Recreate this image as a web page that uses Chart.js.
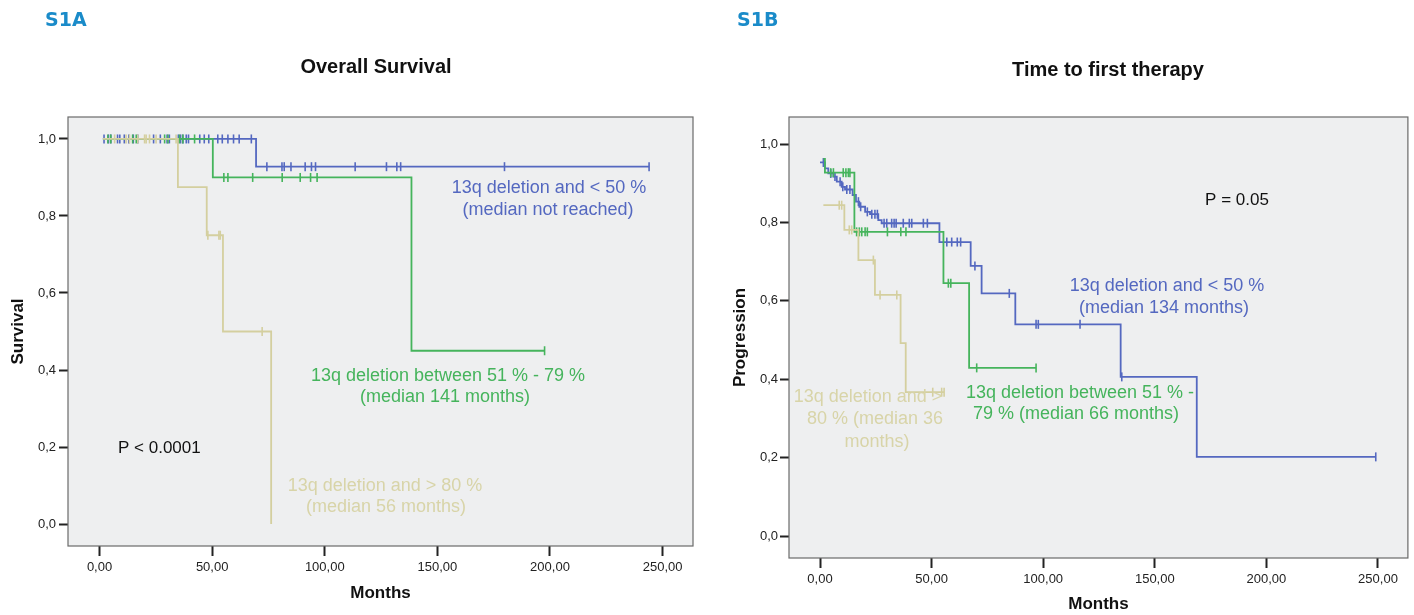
<!DOCTYPE html>
<html lang="en">
<head>
<meta charset="UTF-8">
<title>S1 Kaplan-Meier</title>
<script src="https://cdn.jsdelivr.net/npm/chart.js"></script>
<style>
    body { margin: 0; background: #fff; font-family: "Liberation Sans", Arial, sans-serif; }
    .panel { position: absolute; top: 0; }
    #panelA { left: 0; }
    #panelB { left: 700px; }
</style>
</head>
<body>
<div class="panel" id="panelA"><canvas id="chartA" width="700" height="615"></canvas></div>
<div class="panel" id="panelB"><canvas id="chartB" width="714" height="615"></canvas></div>

<script>
// shared axes
const monthTicks = [0, 50, 100, 150, 200, 250];
const monthTickLabels = ['0,00', '50,00', '100,00', '150,00', '200,00', '250,00'];
const probTicks = [0, 0.2, 0.4, 0.6, 0.8, 1.0];
const probTickLabels = ['0,0', '0,2', '0,4', '0,6', '0,8', '1,0'];

// S1A - overall survival: step times, value after each step, censored times
const osLowTimes = [1.5, 69.5];
const osLowSurv = [1.0, 0.928];
const osLowCensor = [2, 4, 5, 8, 9, 11, 13, 15, 17, 24, 27, 30, 31, 35, 36, 37, 38.5, 39.5,
    44.5, 46.5, 48.5, 52.5, 54.5, 57, 59.5, 62, 67.4, 74.3, 81, 82, 85, 91.3, 94.1, 95.9,
    113.5, 127.4, 132, 133.7, 179.8, 244];

const osMidTimes = [1.5, 50.3, 138.5];
const osMidSurv = [1.0, 0.90, 0.45];
const osMidCensor = [3.7, 5, 14.7, 16.3, 28.9, 30.4, 35.5, 37, 42.2, 55.2, 57, 68, 81.1,
    89.1, 93.7, 96.6, 197.6];

const osHighTimes = [1.5, 34.8, 47.6, 54.8, 76.2];
const osHighSurv = [1.0, 0.875, 0.75, 0.50, 0.0];
const osHighCensor = [6.7, 11.8, 13.3, 17, 20, 20.7, 22.2, 25.1, 34, 48.1, 53, 53.6, 72.2];

// S1B - time to first therapy
const ttLowTimes = [0, 2.2, 3.7, 6, 7.5, 9.7, 11.2, 14.6, 16.1, 17.6, 20.2, 22.4, 26.1, 27.6,
    53.5, 67.5, 72.4, 87.5, 134.7, 168.8];
const ttLowProg = [0.953, 0.938, 0.925, 0.917, 0.904, 0.891, 0.884, 0.870, 0.853, 0.840,
    0.827, 0.821, 0.806, 0.798, 0.75, 0.689, 0.619, 0.540, 0.406, 0.202];
const ttLowCensor = [1.5, 4.8, 6.7, 9, 10.2, 12, 13.4, 17.2, 18.2, 21.2, 23.2, 24.6, 25.7,
    28.7, 29.9, 32.1, 33.2, 34.1, 37.3, 40, 41.1, 46.3, 48.1, 56.8, 59, 61.5, 63, 69.4,
    84.8, 96.8, 97.8, 116.5, 135.2, 249];

const ttMidTimes = [1.5, 2.2, 15.4, 55.3, 66.8];
const ttMidProg = [0.962, 0.927, 0.776, 0.645, 0.429];
const ttMidCensor = [4.8, 6, 10.4, 11.6, 12.7, 13.4, 16.4, 17.6, 18.7, 20.2, 21.2, 30.2,
    36.2, 38.5, 57.5, 58.6, 70.2, 96.8];

const ttHighTimes = [1.5, 10.9, 17.2, 24.6, 36.1, 38.4];
const ttHighProg = [0.844, 0.781, 0.704, 0.615, 0.492, 0.367];
const ttHighCensor = [8.6, 9.7, 13.1, 14.2, 23.9, 26.9, 34.4, 50.5, 54.5, 55.6];

const BLUE = '#5468c0';
const GREEN = '#45b45c';
const TAN = '#d4cf9f';
const TAN_TEXT = '#d8d4a8';
const TAG = '#1a8bc9';

Chart.defaults.font.family = '"Liberation Sans", Arial, sans-serif';

// step curve: flat at previous value until next time, then drop
function curvePoints(times, vals, censor) {
    const pts = times.map((t, i) => ({ x: t, y: vals[i] }));
    const lastC = Math.max(...censor);
    if (lastC > times[times.length - 1]) pts.push({ x: lastC, y: vals[vals.length - 1] });
    return pts;
}
function valueAt(times, vals, t) {
    let v = vals[0];
    for (let i = 0; i < times.length; i++) if (times[i] <= t) v = vals[i];
    return v;
}
function groupSets(times, vals, censor, color) {
    return [{
        data: curvePoints(times, vals, censor),
        borderColor: color, borderWidth: 1.8, pointRadius: 0,
        stepped: 'before', fill: false, showLine: true
    }, {
        data: censor.map(t => ({ x: t, y: valueAt(times, vals, t) })),
        borderColor: color, backgroundColor: color, showLine: false,
        pointStyle: 'line', rotation: 90, pointRadius: 4.5, borderWidth: 1.6
    }];
}

// plot background + frame
const framePlugin = {
    id: 'frame',
    beforeDraw(chart) {
        const a = chart.chartArea, ctx = chart.ctx;
        ctx.save();
        ctx.fillStyle = '#eeeff0';
        ctx.fillRect(a.left, a.top, a.right - a.left, a.bottom - a.top);
        ctx.restore();
    },
    beforeDatasetsDraw(chart) {
        const a = chart.chartArea, ctx = chart.ctx;
        ctx.save();
        ctx.strokeStyle = '#6a6a6a';
        ctx.lineWidth = 1.2;
        ctx.strokeRect(a.left, a.top, a.right - a.left, a.bottom - a.top);
        ctx.restore();
    }
};

// free text: titles, panel tags, curve labels
const notesPlugin = {
    id: 'notes',
    afterDraw(chart, args, opts) {
        const ctx = chart.ctx;
        ctx.save();
        ctx.textBaseline = 'middle';
        (opts.items || []).forEach(it => {
            const fam = it.family || '"Liberation Sans", Arial, sans-serif';
            ctx.font = (it.weight || 'normal') + ' ' + (it.size || 18) + 'px ' + fam;
            ctx.fillStyle = it.color || '#111';
            ctx.textAlign = it.align || 'center';
            ctx.fillText(it.text, it.x, it.y);
        });
        ctx.restore();
    }
};

function axisX(min, max, height, titlePad) {
    return {
        type: 'linear', min: min, max: max,
        afterBuildTicks: s => { s.ticks = monthTicks.map(v => ({ value: v })); },
        afterFit: s => { s.height = height; },
        border: { display: false },
        grid: { drawOnChartArea: false, drawTicks: true, tickLength: 10, tickColor: '#222', tickWidth: 2 },
        ticks: {
            padding: 4, color: '#222', font: { size: 13 }, maxRotation: 0, autoSkip: false,
            callback: (v, i) => monthTickLabels[i]
        },
        title: { display: true, text: 'Months', color: '#111', font: { size: 17, weight: 'bold' },
            padding: { top: 0, bottom: titlePad } }
    };
}
function axisY(min, max, width, title, titlePad, tickPad) {
    return {
        type: 'linear', min: min, max: max,
        afterBuildTicks: s => { s.ticks = probTicks.map(v => ({ value: v })); },
        afterFit: s => { s.width = width; },
        border: { display: false },
        grid: { drawOnChartArea: false, drawTicks: true, tickLength: 9, tickColor: '#222', tickWidth: 2 },
        ticks: {
            padding: tickPad, color: '#222', font: { size: 13 },
            callback: (v, i) => probTickLabels[i]
        },
        title: { display: true, text: title, color: '#111', font: { size: 17, weight: 'bold' },
            padding: { top: titlePad, bottom: 0 } }
    };
}

function baseOptions(pad, x, y, items) {
    return {
        responsive: false, animation: false, devicePixelRatio: 1,
        layout: { padding: pad },
        scales: { x: x, y: y },
        plugins: { legend: { display: false }, tooltip: { enabled: false }, notes: { items: items } }
    };
}

new Chart(document.getElementById('chartA'), {
    type: 'line',
    data: {
        datasets: [
            ...groupSets(osHighTimes, osHighSurv, osHighCensor, TAN),
            ...groupSets(osMidTimes, osMidSurv, osMidCensor, GREEN),
            ...groupSets(osLowTimes, osLowSurv, osLowCensor, BLUE)
        ]
    },
    options: baseOptions(
        { top: 117, left: 0, right: 7, bottom: 0 },
        axisX(-14, 263.5, 69, 11),
        axisY(-0.057, 1.057, 68, 'Survival', 8, 3),
        [
            { text: 'S1A', x: 45, y: 21, align: 'left', weight: 'bold', size: 19, color: TAG, family: '"DejaVu Sans", sans-serif' },
            { text: 'Overall Survival', x: 376, y: 67, weight: 'bold', size: 20, color: '#111' },
            { text: '13q deletion and < 50 %', x: 549, y: 188, color: BLUE },
            { text: '(median not reached)', x: 548, y: 210, color: BLUE },
            { text: '13q deletion between 51 % - 79 %', x: 448, y: 376, color: GREEN },
            { text: '(median 141 months)', x: 445, y: 397, color: GREEN },
            { text: 'P < 0.0001', x: 118, y: 448, align: 'left', size: 17, color: '#111' },
            { text: '13q deletion and > 80 %', x: 385, y: 486, color: TAN_TEXT },
            { text: '(median 56 months)', x: 386, y: 507, color: TAN_TEXT }
        ]
    ),
    plugins: [framePlugin, notesPlugin]
});

new Chart(document.getElementById('chartB'), {
    type: 'line',
    data: {
        datasets: [
            ...groupSets(ttHighTimes, ttHighProg, ttHighCensor, TAN),
            ...groupSets(ttMidTimes, ttMidProg, ttMidCensor, GREEN),
            ...groupSets(ttLowTimes, ttLowProg, ttLowCensor, BLUE)
        ]
    },
    options: baseOptions(
        { top: 117, left: 0, right: 6, bottom: 0 },
        axisX(-13.9, 263.4, 57, 0),
        axisY(-0.056, 1.069, 89, 'Progression', 30, 2),
        [
            { text: 'S1B', x: 37, y: 21, align: 'left', weight: 'bold', size: 19, color: TAG, family: '"DejaVu Sans", sans-serif' },
            { text: 'Time to first therapy', x: 408, y: 70, weight: 'bold', size: 20, color: '#111' },
            { text: 'P = 0.05', x: 537, y: 200, size: 17, color: '#111' },
            { text: '13q deletion and < 50 %', x: 467, y: 286, color: BLUE },
            { text: '(median 134 months)', x: 464, y: 308, color: BLUE },
            { text: '13q deletion between 51 % -', x: 380, y: 393, color: GREEN },
            { text: '79 % (median 66 months)', x: 376, y: 414, color: GREEN },
            { text: '13q deletion and >', x: 168, y: 397, color: TAN_TEXT },
            { text: '80 % (median 36', x: 175, y: 419, color: TAN_TEXT },
            { text: 'months)', x: 177, y: 442, color: TAN_TEXT }
        ]
    ),
    plugins: [framePlugin, notesPlugin]
});
</script>
</body>
</html>
